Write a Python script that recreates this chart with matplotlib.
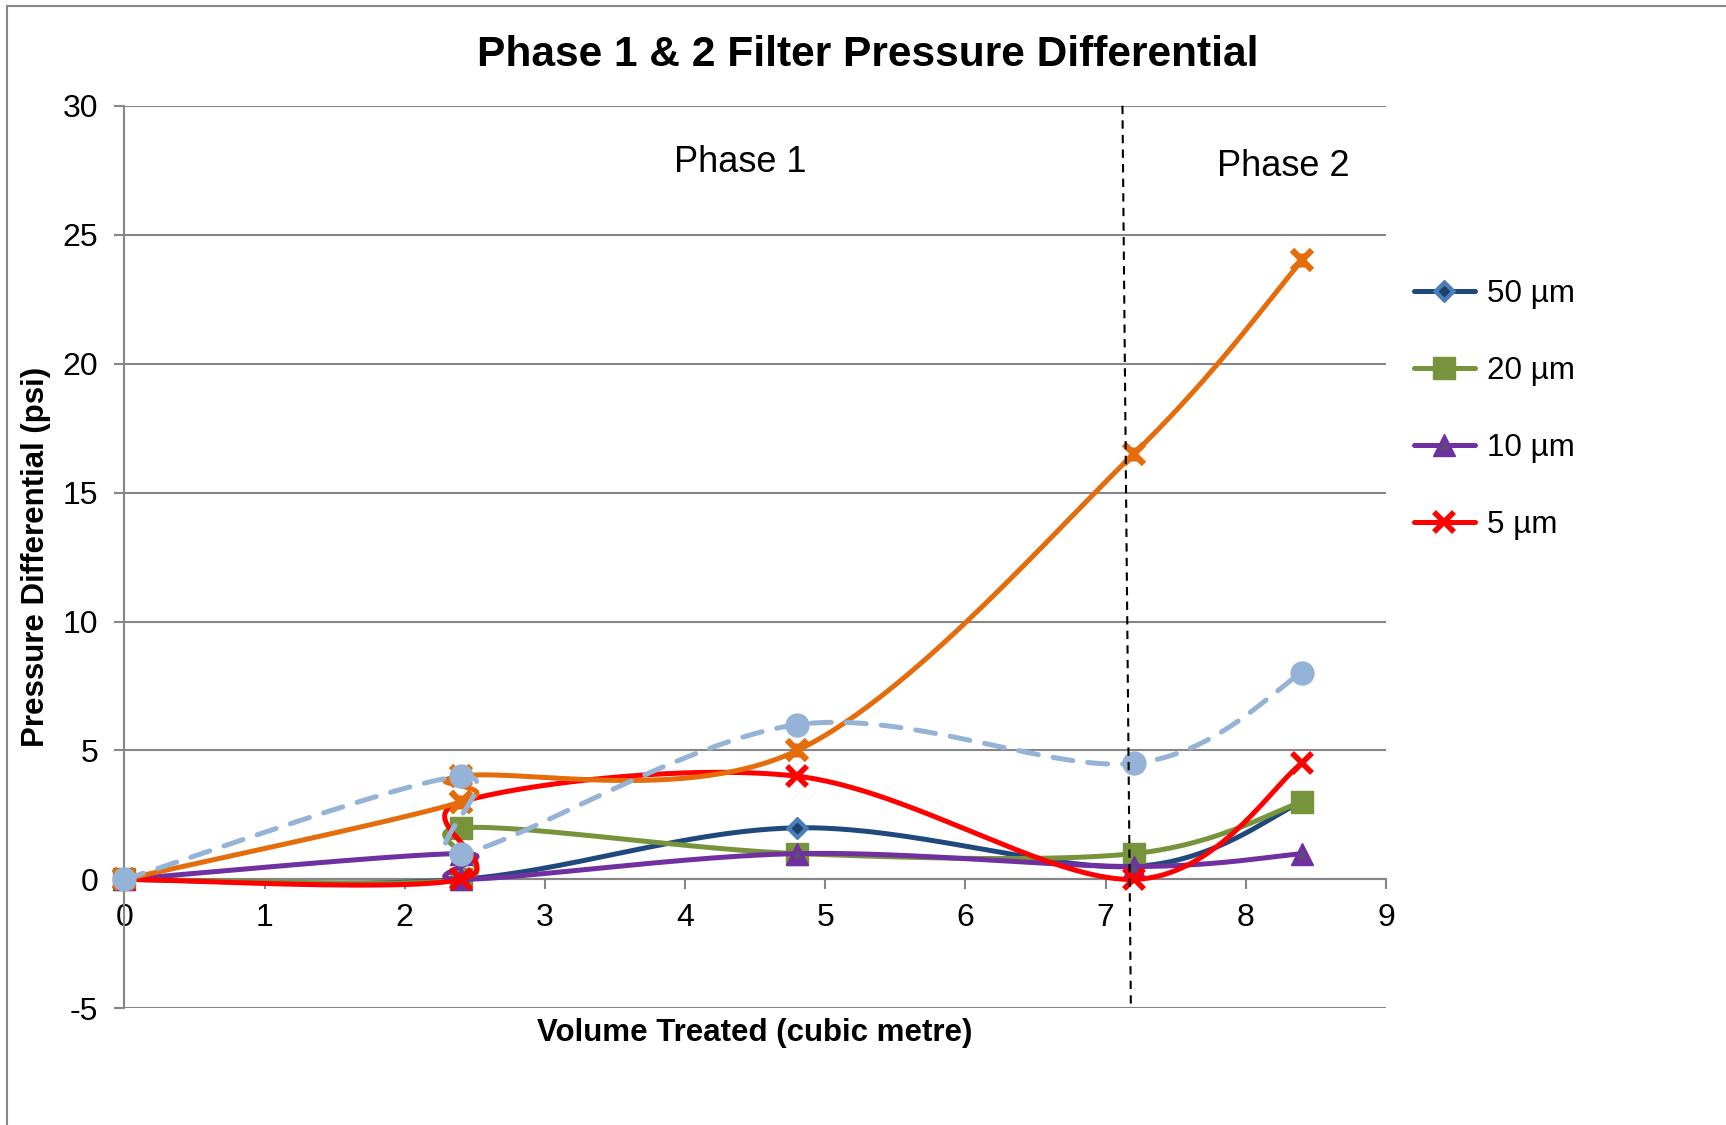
import numpy as np
import matplotlib.pyplot as plt
from matplotlib.lines import Line2D
from matplotlib.legend_handler import HandlerTuple

plt.rcParams['font.family'] = ['Liberation Sans', 'DejaVu Sans']
plt.rcParams['axes.unicode_minus'] = False

# data (volume in m3, pressure differential in psi)
vol_50 = [0, 2.4, 4.8, 7.2, 8.4]
dp_50 = [0, 0, 2, 0.5, 3]
vol_20 = [0, 2.4, 2.4, 4.8, 7.2, 8.4]
dp_20 = [0, 0, 2, 1, 1, 3]
vol_10 = [0, 2.4, 2.4, 4.8, 7.2, 8.4]
dp_10 = [0, 1, 0, 1, 0.5, 1]
vol_5 = [0, 2.4, 2.4, 4.8, 7.2, 8.4]
dp_5 = [0, 0, 3, 4, 0, 4.5]
vol_total = [0, 2.4, 2.4, 4.8, 7.2, 8.4]
dp_total = [0, 3, 4, 5, 16.5, 24]
vol_extra = [0, 2.4, 2.4, 4.8, 7.2, 8.4]
dp_extra = [0, 4, 1, 6, 4.5, 8]

labels = ['50 µm', '20 µm', '10 µm', '5 µm']
x_ticks = list(range(0, 10))
y_ticks = list(range(-5, 31, 5))
phase_split = [7.12, 7.18]


def excel_smooth(xs, ys, n=60):
	# bezier segments with catmull-rom style control points (like excel "smoothed line")
	p = np.column_stack([xs, ys]).astype(float)
	out = []
	t = np.linspace(0, 1, n)[:, None]
	for i in range(len(p) - 1):
		p0 = p[max(i - 1, 0)]
		p1 = p[i]
		p2 = p[i + 1]
		p3 = p[min(i + 2, len(p) - 1)]
		c1 = p1 + (p2 - p0) / 6
		c2 = p2 - (p3 - p1) / 6
		seg = (1 - t)**3 * p1 + 3 * (1 - t)**2 * t * c1 + 3 * (1 - t) * t**2 * c2 + t**3 * p2
		out.append(seg)
	out = np.vstack(out)
	return out[:, 0], out[:, 1]


fig = plt.figure(figsize=(17.26, 11.25), dpi=100)
ax = fig.add_axes([0.0721, 0.1037, 0.7309, 0.8023])

lw = 3.6
series = [
	(vol_50, dp_50, '#1F497D', dict(marker='D', ms=11.5, mfc='#4A7EBB', mec='#4A7EBB'), dict(marker='D', ms=5, mfc='#1F3F6B', mec='#1F3F6B')),
	(vol_20, dp_20, '#77933C', dict(marker='s', ms=16, mfc='#77933C', mec='#77933C'), None),
	(vol_10, dp_10, '#7030A0', dict(marker='^', ms=16, mfc='#7030A0', mec='#7030A0'), dict(marker='^', ms=6, mfc='#5F497A', mec='#5F497A')),
	(vol_5, dp_5, '#FF0000', dict(marker='x', ms=14, mew=4, mec='#FF0000'), None),
	(vol_total, dp_total, '#E46C0A', dict(marker='x', ms=14, mew=4.5, mec='#E46C0A'), dict(marker='|', ms=10, mew=5, mec='#E46C0A')),
	(vol_extra, dp_extra, '#95B3D7', dict(marker='o', ms=16.5, mfc='#95B3D7', mec='#95B3D7'), None),
]

handles = []
for k, (xs, ys, col, mk, inner) in enumerate(series):
	sx, sy = excel_smooth(xs, ys)
	ls = (0, (4, 3)) if k == 5 else '-'
	ax.plot(sx, sy, color=col, lw=lw, ls=ls, dash_capstyle='round', solid_capstyle='round', zorder=3 + 3 * k, clip_on=False)
	ax.plot(xs, ys, ls='none', zorder=4 + 3 * k, clip_on=False, **mk)
	if inner is not None:
		ax.plot(xs, ys, ls='none', zorder=5 + 3 * k, clip_on=False, **inner)
	if k < 4:
		h = [Line2D([], [], color=col, lw=lw, solid_capstyle='round', **mk)]
		if inner is not None:
			h.append(Line2D([], [], ls='none', **inner))
		handles.append(tuple(h))

# phase boundary
ax.plot(phase_split, [30, -5], color='black', lw=1.5, ls=(0, (4, 3)), zorder=30, clip_on=False)
ax.text(4.39, 27.8, 'Phase 1', fontsize=26, ha='center', va='center')
ax.text(8.27, 27.65, 'Phase 2', fontsize=26, ha='center', va='center')

ax.set_xlim(0, 9)
ax.set_ylim(-5, 30)
ax.set_xticks(x_ticks)
ax.set_yticks(y_ticks)
ax.yaxis.grid(True, color='#868686', lw=1.5)
ax.set_axisbelow(True)
for s in ['top', 'right']:
	ax.spines[s].set_visible(False)
ax.spines['bottom'].set_position(('data', 0))
ax.spines['bottom'].set_color('#868686')
ax.spines['bottom'].set_linewidth(1.5)
ax.spines['bottom'].set_zorder(2)
ax.spines['left'].set_color('#868686')
ax.spines['left'].set_linewidth(1.5)
ax.tick_params(axis='both', colors='#868686', labelcolor='black', labelsize=23, length=7, width=1.5, direction='out')
ax.tick_params(axis='y', pad=12)
ax.tick_params(axis='x', pad=10)

fig.text(0.503, 0.951, 'Phase 1 & 2 Filter Pressure Differential', fontsize=30.6, fontweight='bold', ha='center', va='center')
fig.text(0.4374, 0.082, 'Volume Treated (cubic metre)', fontsize=22.5, fontweight='bold', ha='center', va='center')
fig.text(0.021, 0.505, 'Pressure Differential (psi)', fontsize=22.5, fontweight='bold', ha='center', va='center', rotation=90)

fig.legend(handles, labels, handler_map={tuple: HandlerTuple(ndivide=1, pad=0)}, loc='upper left',
	bbox_to_anchor=(0.819, 0.752), frameon=False, fontsize=22.6, handlelength=1.95,
	handletextpad=0.4, labelspacing=1.5, borderpad=0, borderaxespad=0)

# chart area border (only top and left edges are inside the picture)
fig.add_artist(Line2D([6.7 / 1726, 1], [1 - 6 / 1125, 1 - 6 / 1125], color='#868686', lw=1.5, transform=fig.transFigure))
fig.add_artist(Line2D([6.7 / 1726, 6.7 / 1726], [0, 1 - 6 / 1125], color='#868686', lw=1.5, transform=fig.transFigure))

plt.savefig('out.png', dpi=100)
